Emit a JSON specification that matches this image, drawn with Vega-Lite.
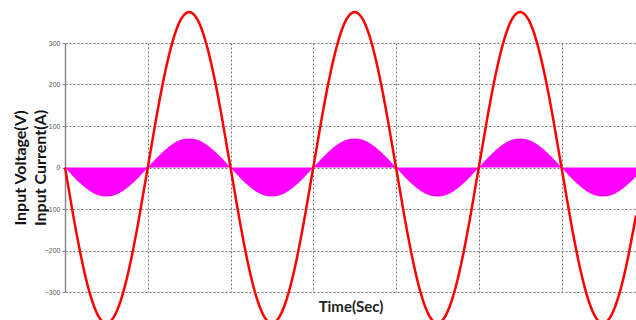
{
  "$schema": "https://vega.github.io/schema/vega-lite/v6.json",
  "width": 571,
  "height": 249,
  "autosize": {"type": "none"},
  "padding": {"left": 65, "top": 43, "right": 0, "bottom": 28},
  "background": "white",
  "config": {"view": {"stroke": null}},
  "data": {"values": [
    {"t":0,"v":0,"i":0},{"t":1,"v":-115.9,"i":-21.6},{"t":2,"v":-220.4,"i":-41.1},{"t":3,"v":-303.4,"i":-56.6},{"t":4,"v":-356.7,"i":-66.6},
    {"t":5,"v":-375,"i":-70},{"t":6,"v":-356.7,"i":-66.6},{"t":7,"v":-303.4,"i":-56.6},{"t":8,"v":-220.4,"i":-41.1},{"t":9,"v":-115.9,"i":-21.6},
    {"t":10,"v":0,"i":0},{"t":11,"v":115.9,"i":21.6},{"t":12,"v":220.4,"i":41.1},{"t":13,"v":303.4,"i":56.6},{"t":14,"v":356.7,"i":66.6},
    {"t":15,"v":375,"i":70},{"t":16,"v":356.7,"i":66.6},{"t":17,"v":303.4,"i":56.6},{"t":18,"v":220.4,"i":41.1},{"t":19,"v":115.9,"i":21.6},
    {"t":20,"v":0,"i":0},{"t":21,"v":-115.9,"i":-21.6},{"t":22,"v":-220.4,"i":-41.1},{"t":23,"v":-303.4,"i":-56.6},{"t":24,"v":-356.7,"i":-66.6},
    {"t":25,"v":-375,"i":-70},{"t":26,"v":-356.7,"i":-66.6},{"t":27,"v":-303.4,"i":-56.6},{"t":28,"v":-220.4,"i":-41.1},{"t":29,"v":-115.9,"i":-21.6},
    {"t":30,"v":0,"i":0},{"t":31,"v":115.9,"i":21.6},{"t":32,"v":220.4,"i":41.1},{"t":33,"v":303.4,"i":56.6},{"t":34,"v":356.7,"i":66.6},
    {"t":35,"v":375,"i":70},{"t":36,"v":356.7,"i":66.6},{"t":37,"v":303.4,"i":56.6},{"t":38,"v":220.4,"i":41.1},{"t":39,"v":115.9,"i":21.6},
    {"t":40,"v":0,"i":0},{"t":41,"v":-115.9,"i":-21.6},{"t":42,"v":-220.4,"i":-41.1},{"t":43,"v":-303.4,"i":-56.6},{"t":44,"v":-356.7,"i":-66.6},
    {"t":45,"v":-375,"i":-70},{"t":46,"v":-356.7,"i":-66.6},{"t":47,"v":-303.4,"i":-56.6},{"t":48,"v":-220.4,"i":-41.1},{"t":49,"v":-115.9,"i":-21.6},
    {"t":50,"v":0,"i":0},{"t":51,"v":115.9,"i":21.6},{"t":52,"v":220.4,"i":41.1},{"t":53,"v":303.4,"i":56.6},{"t":54,"v":356.7,"i":66.6},
    {"t":55,"v":375,"i":70},{"t":56,"v":356.7,"i":66.6},{"t":57,"v":303.4,"i":56.6},{"t":58,"v":220.4,"i":41.1},{"t":59,"v":115.9,"i":21.6},
    {"t":60,"v":0,"i":0},{"t":61,"v":-115.9,"i":-21.6},{"t":62,"v":-220.4,"i":-41.1},{"t":63,"v":-303.4,"i":-56.6},{"t":64,"v":-356.7,"i":-66.6},
    {"t":65,"v":-375,"i":-70},{"t":66,"v":-356.7,"i":-66.6},{"t":67,"v":-303.4,"i":-56.6},{"t":68,"v":-220.4,"i":-41.1},{"t":69,"v":-115.9,"i":-21.6}
  ]},
  "encoding": {
    "x": {
      "field": "t", "type": "quantitative",
      "scale": {"domain": [0, 69], "nice": false, "zero": false},
      "axis": {
        "title": "Time(Sec)", "titleFont": "Lato", "titleFontSize": 15, "titleFontWeight": "bold", "titleColor": "#222",
        "titleY": 14, "titleBaseline": "middle",
        "domain": false, "ticks": false, "labels": false,
        "values": [10, 20, 30, 40, 50, 60],
        "grid": true, "gridColor": "#777", "gridDash": [2, 2], "gridWidth": 1, "gridOpacity": 1
      }
    }
  },
  "layer": [
    {
      "mark": {"type": "area", "color": "#ff00ff", "interpolate": "natural", "opacity": 1, "clip": false},
      "encoding": {
        "y": {
          "field": "i", "type": "quantitative",
          "scale": {"domain": [-300, 300], "nice": false, "zero": false},
          "axis": {
            "title": ["Input Voltage(V)", "Input Current(A)"],
            "titleFont": "Lato", "titleFontSize": 16, "titleFontWeight": "bold", "titleColor": "#111",
            "titleLineHeight": 20, "titlePadding": -4,
            "values": [-300, -200, -100, 0, 100, 200, 300],
            "labelFont": "Liberation Sans", "labelFontSize": 7, "labelColor": "#555",
            "tickColor": "#888", "tickSize": 3, "domainColor": "#888", "domainWidth": 1.5,
            "grid": true, "gridColor": "#777", "gridDash": [2, 2], "gridWidth": 1, "gridOpacity": 1
          }
        }
      }
    },
    {
      "mark": {"type": "rule", "color": "#ff00ff", "strokeWidth": 2},
      "encoding": {"y": {"datum": 0}}
    },
    {
      "mark": {"type": "line", "color": "#ff0000", "strokeWidth": 2.5, "interpolate": "natural", "clip": false},
      "encoding": {
        "y": {"field": "v", "type": "quantitative"}
      }
    }
  ]
}
